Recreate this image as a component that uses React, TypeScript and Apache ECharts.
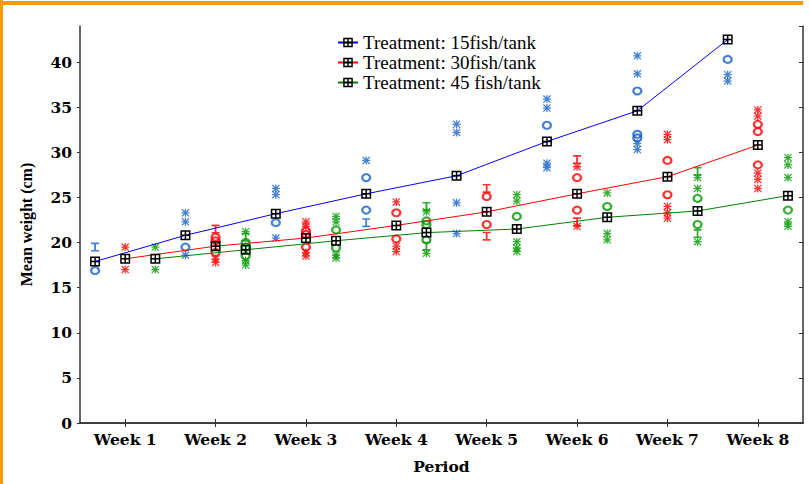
import React, { useEffect, useRef } from "react";
import * as echarts from "echarts";

// ---------- data ----------
const weeks = ["Week 1", "Week 2", "Week 3", "Week 4", "Week 5", "Week 6", "Week 7", "Week 8"];
const treatments = ["Treatment: 15fish/tank", "Treatment: 30fish/tank", "Treatment: 45 fish/tank"];
const yTicks = { min: 0, max: 44, interval: 5 };

// mean weight per week (cm)
const mean15 = [17.9, 20.8, 23.2, 25.4, 27.4, 31.2, 34.6, 42.5];
const mean30 = [18.2, 19.6, 20.5, 21.9, 23.4, 25.4, 27.3, 30.8];
const mean45 = [18.2, 19.2, 20.2, 21.1, 21.5, 22.8, 23.5, 25.2];

// individual observations: [week index, value]
const circles15 = [[0, 16.9], [1, 19.5], [2, 22.2], [3, 27.2], [3, 23.6], [5, 33.0], [6, 36.8], [6, 32.0], [6, 31.6], [7, 40.3]];
const bars15 = [[0, 19.5], [3, 22.2]];
const stars15 = [[1, 23.3], [1, 22.3], [1, 18.6], [2, 26.0], [2, 25.3], [2, 20.5], [3, 29.1], [4, 33.1], [4, 32.2], [4, 24.4], [4, 21.0], [5, 35.9], [5, 34.9], [5, 28.8], [5, 28.3], [6, 40.7], [6, 38.7], [6, 31.0], [6, 30.3], [7, 38.6], [7, 37.9]];

const circles30 = [[1, 20.6], [1, 20.2], [1, 18.9], [2, 21.3], [2, 20.9], [2, 19.5], [3, 23.3], [3, 20.4], [4, 25.1], [4, 22.0], [5, 27.2], [5, 23.6], [6, 29.1], [6, 25.3], [7, 33.1], [7, 32.3], [7, 28.6]];
const bars30 = [[1, 21.5], [4, 26.0], [4, 20.7], [5, 29.2], [5, 22.3]];
const stars30 = [[0, 19.5], [0, 17.0], [1, 18.2], [1, 17.8], [2, 22.3], [2, 21.8], [2, 18.9], [2, 18.5], [3, 24.5], [3, 19.6], [3, 19.0], [5, 28.4], [5, 21.8], [6, 32.0], [6, 31.4], [6, 24.0], [6, 23.3], [6, 22.7], [7, 34.7], [7, 34.0], [7, 27.7], [7, 27.0], [7, 26.0]];

const circles45 = [[1, 20.0], [1, 19.5], [1, 18.5], [2, 21.4], [2, 19.4], [3, 22.4], [3, 22.0], [3, 20.3], [4, 22.9], [5, 24.0], [6, 24.9], [6, 22.0], [7, 23.6]];
const bars45 = [[1, 20.6], [3, 24.0], [3, 19.6], [6, 27.9], [6, 21.0]];
const stars45 = [[0, 19.5], [0, 17.0], [1, 21.2], [1, 18.0], [1, 17.5], [2, 22.9], [2, 22.3], [2, 18.6], [2, 18.3], [3, 23.4], [3, 18.8], [4, 25.3], [4, 24.6], [4, 20.1], [4, 19.4], [4, 19.0], [5, 25.5], [5, 21.0], [5, 20.3], [6, 27.2], [6, 26.0], [6, 20.1], [7, 29.4], [7, 28.6], [7, 27.2], [7, 22.3], [7, 21.8]];

// ---------- styles ----------
const lineColors = ["#0000FF", "#FF0000", "#008000"];
const pointColors = ["#1560C8", "#FF0000", "#009A00"];
const MEAN_SYMBOL =
  "path://M0,0H10V10H0Z M1.5,1.5V4.25H4.25V1.5Z M5.75,1.5V4.25H8.5V1.5Z M1.5,5.75V8.5H4.25V5.75Z M5.75,5.75V8.5H8.5V5.75Z";
const BAR_SYMBOL = "path://M0,0H8V1.8H4.9V8.2H8V10H0V8.2H3.1V1.8H0Z";
const STAR_SYMBOL =
  "path://M4.2,0H5.8V10H4.2Z M0,4.2H10V5.8H0Z M1.1,0L10,8.9L8.9,10L0,1.1Z M8.9,0L10,1.1L1.1,10L0,8.9Z";
const SERIF = "Liberation Serif";
const WIDE_SERIF = "DejaVu Serif";

const pos = (week: number, t: number) => week * 3 + t + 0.5;

export default function App() {
  const ref = useRef<HTMLDivElement>(null);
  useEffect(() => {
    document.body.style.margin = "0";
    const chart = echarts.init(ref.current!, undefined, { renderer: "svg" });
    const means = [mean15, mean30, mean45];
    const circles = [circles15, circles30, circles45];
    const bars = [bars15, bars30, bars45];
    const stars = [stars15, stars30, stars45];

    const series: any[] = [];
    for (let t = 0; t < 3; t++) {
      const pts = (arr: number[][]) => arr.map(([w, v]) => [pos(w, t), v]);
      series.push({
        type: "scatter",
        name: "pts-o-" + t,
        xAxisIndex: 2,
        yAxisIndex: 0,
        data: pts(circles[t]),
        symbol: "circle",
        symbolSize: [8, 7],
        itemStyle: { color: "none", borderColor: pointColors[t], borderWidth: 2.2 },
        z: 2,
        silent: true,
      });
      series.push({
        type: "scatter",
        name: "pts-i-" + t,
        xAxisIndex: 2,
        yAxisIndex: 0,
        data: pts(bars[t]),
        symbol: BAR_SYMBOL,
        symbolSize: [8, 9],
        itemStyle: { color: pointColors[t] },
        z: 2,
        silent: true,
      });
      series.push({
        type: "scatter",
        name: "pts-s-" + t,
        xAxisIndex: 2,
        yAxisIndex: 0,
        data: pts(stars[t]),
        symbol: STAR_SYMBOL,
        symbolSize: [8, 8],
        itemStyle: { color: pointColors[t] },
        z: 2,
        silent: true,
      });
    }
    for (let t = 0; t < 3; t++) {
      series.push({
        type: "line",
        name: treatments[t],
        xAxisIndex: 2,
        yAxisIndex: 0,
        data: means[t].map((v, w) => [pos(w, t), v]),
        symbol: MEAN_SYMBOL,
        symbolSize: 10,
        showAllSymbol: true,
        itemStyle: { color: "#000" },
        lineStyle: { color: lineColors[t], width: 1 },
        z: 3,
      });
    }

    const frame = { show: true, lineStyle: { color: "#333", width: 1.5 } };
    chart.setOption({
      animation: false,
      backgroundColor: "#fff",
      grid: { left: 80, right: 6, top: 26, bottom: 61, show: false },
      legend: {
        data: treatments,
        orient: "vertical",
        left: 337,
        top: 33,
        itemWidth: 20,
        itemHeight: 12,
        itemGap: 1,
        padding: 0,
        textStyle: { fontFamily: SERIF, fontSize: 19, color: "#000" },
      },
      xAxis: [
        {
          type: "category",
          data: weeks,
          position: "bottom",
          boundaryGap: true,
          axisLine: frame,
          axisTick: { show: true, inside: true, alignWithLabel: true, length: 4, lineStyle: { color: "#333" } },
          axisLabel: { fontFamily: WIDE_SERIF, fontWeight: "bold", fontSize: 15.5, color: "#000", margin: 8 },
          name: "Period",
          nameLocation: "middle",
          nameGap: 35,
          nameTextStyle: { fontFamily: WIDE_SERIF, fontWeight: "bold", fontSize: 15.5, color: "#000" },
        },
        {
          type: "category",
          data: weeks,
          position: "top",
          boundaryGap: true,
          axisLine: frame,
          axisTick: { show: true, inside: true, alignWithLabel: true, length: 4, lineStyle: { color: "#333" } },
          axisLabel: { show: false },
        },
        { type: "value", min: 0, max: 24, show: false },
      ],
      yAxis: [
        {
          type: "value",
          position: "left",
          min: yTicks.min,
          max: yTicks.max,
          interval: yTicks.interval,
          axisLine: frame,
          axisTick: { show: true, length: 3, lineStyle: { color: "#333" } },
          splitLine: { show: false },
          axisLabel: { fontFamily: WIDE_SERIF, fontWeight: "bold", fontSize: 15.5, color: "#000", margin: 8, showMaxLabel: false },
          name: "Mean weight (cm)",
          nameLocation: "middle",
          nameGap: 46,
          nameTextStyle: { fontFamily: SERIF, fontWeight: "bold", fontSize: 16, color: "#000" },
        },
        {
          type: "value",
          position: "right",
          min: yTicks.min,
          max: yTicks.max,
          interval: yTicks.interval,
          axisLine: frame,
          axisTick: { show: true, inside: true, length: 4, lineStyle: { color: "#333" } },
          splitLine: { show: false },
          axisLabel: { show: false },
        },
      ],
      graphic: [
        { type: "rect", left: 0, top: 1, shape: { width: 803, height: 4 }, style: { fill: "#FF9900" }, silent: true },
        { type: "rect", left: 0, top: 0, shape: { width: 3, height: 484 }, style: { fill: "#FF9900" }, silent: true },
      ],
      series,
    });
    return () => chart.dispose();
  }, []);
  return <div ref={ref} style={{ width: 809, height: 484 }} />;
}
